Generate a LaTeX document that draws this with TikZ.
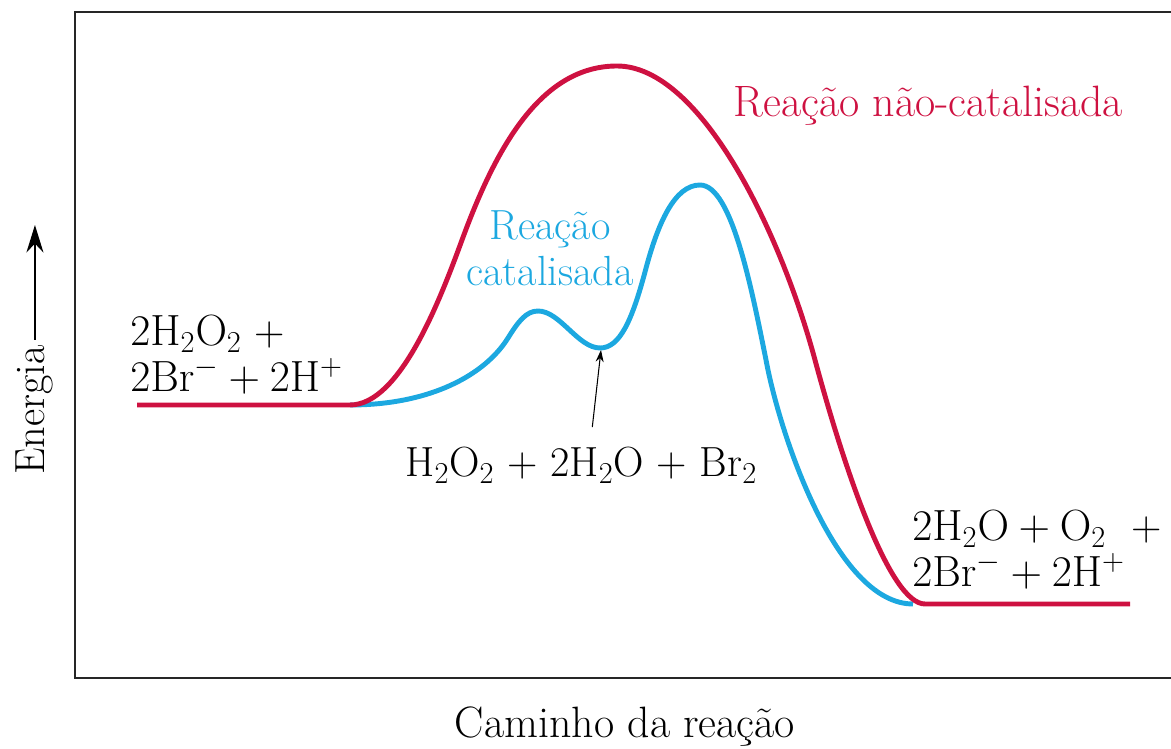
\documentclass[tikz,border=0pt]{standalone}
\usetikzlibrary{arrows.meta}

\definecolor{uncatred}{RGB}{206,17,65}
\definecolor{catblue}{RGB}{28,168,224}

\begin{document}
\begin{tikzpicture}[x=0.02cm, y=-0.02cm,
    lbl/.style={inner sep=0pt, font=\fontsize{24}{26}\selectfont},
    biglbl/.style={inner sep=0pt, font=\fontsize{25}{27}\selectfont},
    frameline/.style={line width=1.4pt, black!85},
    redcurve/.style={line width=2.8pt, uncatred},
    bluecurve/.style={line width=2.8pt, catblue},
    axisarrow/.style={line width=1.1pt, -{Stealth[length=5.5mm, width=3.4mm]}},
    pointer/.style={line width=0.6pt, -{Stealth[length=2.4mm, width=1.6mm]}}]
    \useasboundingbox (0,0) rectangle (1171,749);

    % Frame
    \draw[frameline] (1175,12) -| (75,678) -- (1175,678);

    % Axis labels
    \node [lbl, rotate=90, anchor=base] (energia) at (45,410) {Energia};
    \coordinate (eTip) at (31,225);
    \draw[axisarrow] ([yshift=1mm]energia.east) -- (energia.east |- eTip);
    \node [biglbl, anchor=base] (caminho) at (625,738) {Caminho da reação};

    % Catalysed path
    \draw[bluecurve] (350,405) .. controls (430,405) and (485,375) .. (508,338)
        .. controls (518,322) and (526,311) .. (538,311)
        .. controls (560,311) and (578,348) .. (600,348)
        .. controls (620,348) and (632,320) .. (645,272)
        .. controls (658,222) and (675,185) .. (700,185)
        .. controls (732,185) and (752,290) .. (768,370)
        .. controls (785,450) and (840,604) .. (913,604);

    % Uncatalysed path
    \draw[redcurve] (137,405) -- (350,405)
        .. controls (400,405) and (440,300) .. (462,240)
        .. controls (495,150) and (540,66) .. (617,66)
        .. controls (700,66) and (780,230) .. (815,360)
        .. controls (845,471) and (890,604) .. (925,604) -- (1130,604);

    % Labels
    \node [biglbl, text=uncatred, anchor=base west] (naocat) at (733,117) {Reação não-catalisada};
    \node [lbl, text=catblue, align=center] (cat) at (550,248) {Reação\\catalisada};
    \node [lbl, align=left, anchor=west] (reagentes) at (130,355)
        {$\mathrm{2H_2O_2}$ +\\$\mathrm{2Br^-+2H^+}$};
    \node [lbl, align=left, anchor=west] (produtos) at (912,550)
        {$\mathrm{2H_2O+O_2}$ \ +\\$\mathrm{2Br^-+2H^+}$};
    \node [lbl, anchor=base west] (intermed) at (405,477)
        {H$_2$O$_2$ + 2H$_2$O + Br$_2$};

    % Intermediate pointer
    \coordinate (valley) at (601,350);
    \draw[pointer] ([xshift=0.22cm, yshift=0.4cm]intermed.north) -- (valley);
\end{tikzpicture}
\end{document}
